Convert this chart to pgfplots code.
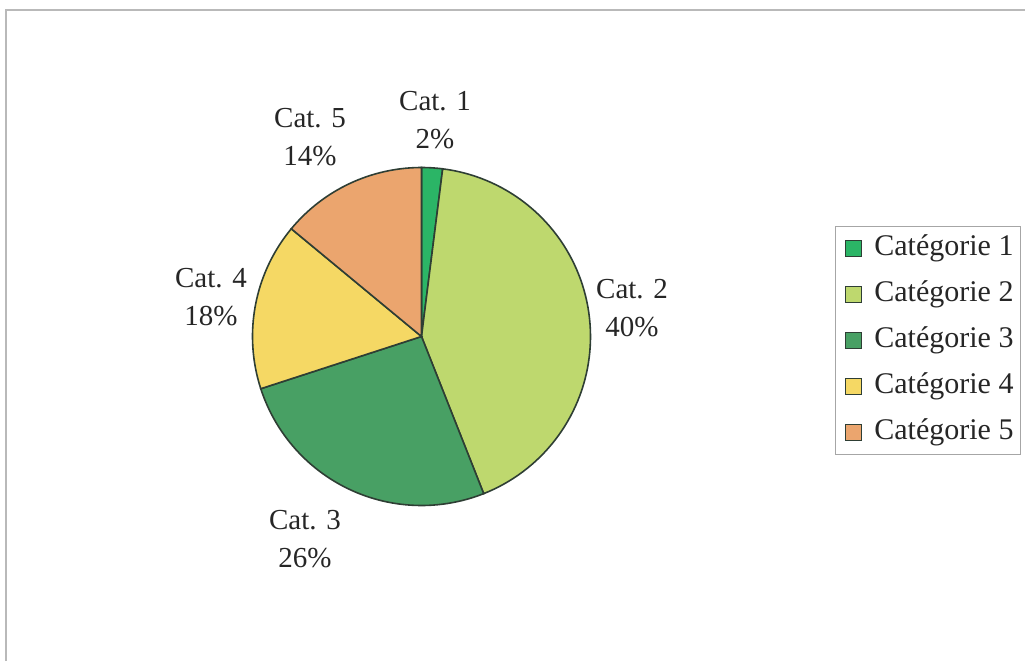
\documentclass[border=0pt]{standalone}
\usepackage{pgfplots}
\pgfplotsset{compat=1.18}
\usepackage{fontspec}
\setmainfont{Liberation Serif}
\definecolor{c1}{HTML}{2BB566}
\definecolor{c2}{HTML}{BED86E}
\definecolor{c3}{HTML}{48A064}
\definecolor{c4}{HTML}{F5D864}
\definecolor{c5}{HTML}{EBA56E}
\definecolor{edge}{HTML}{2E3E34}
\definecolor{txt}{HTML}{262626}
% slice values (percent), read from the drawn geometry
\def\vA{2}
\def\vB{42}
\def\vC{26}
\def\vD{16}
\def\vE{14}
\pgfmathsetmacro\aA{90}
\pgfmathsetmacro\aB{\aA-3.6*\vA}
\pgfmathsetmacro\aC{\aB-3.6*\vB}
\pgfmathsetmacro\aD{\aC-3.6*\vC}
\pgfmathsetmacro\aE{\aD-3.6*\vD}
\pgfmathsetmacro\aF{\aE-3.6*\vE}
\def\cx{421.5}
\def\cy{324.5}
\def\r{169}
\begin{document}
\begin{tikzpicture}
\begin{axis}[
  scale only axis, width=512.5pt, height=330.5pt,
  xmin=0, xmax=1025, ymin=0, ymax=661,
  hide axis, clip=false,
  legend style={at={(axis cs:835,435)}, anchor=north west, draw=gray!70, fill=white,
    font=\fontsize{15}{17}\selectfont\color{txt}, row sep=8.5pt,
    inner xsep=3.5pt, inner ysep=3.75pt,
    nodes={inner xsep=0pt, inner ysep=0pt, text height=11pt, text depth=3.5pt}},
  legend cell align=left,
  legend image code/.code={\path[draw=none,fill=none] (-1.5pt,0pt) -- (14.5pt,0pt);\draw[#1,draw=edge,line width=0.6pt] (0pt,-4pt) rectangle (8pt,4pt);},
]
\draw[gray!55, line width=0.8pt] (axis cs:6,0) -- (axis cs:6,651) -- (axis cs:1025,651);
\addplot[fill=c1, draw=edge, line width=0.8pt, domain=\aB:\aA, samples=20, variable=\t] ({\cx+\r*cos(\t)},{\cy+\r*sin(\t)}) -- (axis cs:\cx,\cy) -- cycle;
\addlegendentry{Catégorie 1}
\addplot[fill=c2, draw=edge, line width=0.8pt, domain=\aC:\aB, samples=80, variable=\t] ({\cx+\r*cos(\t)},{\cy+\r*sin(\t)}) -- (axis cs:\cx,\cy) -- cycle;
\addlegendentry{Catégorie 2}
\addplot[fill=c3, draw=edge, line width=0.8pt, domain=\aD:\aC, samples=60, variable=\t] ({\cx+\r*cos(\t)},{\cy+\r*sin(\t)}) -- (axis cs:\cx,\cy) -- cycle;
\addlegendentry{Catégorie 3}
\addplot[fill=c4, draw=edge, line width=0.8pt, domain=\aE:\aD, samples=40, variable=\t] ({\cx+\r*cos(\t)},{\cy+\r*sin(\t)}) -- (axis cs:\cx,\cy) -- cycle;
\addlegendentry{Catégorie 4}
\addplot[fill=c5, draw=edge, line width=0.8pt, domain=\aF:\aE, samples=40, variable=\t] ({\cx+\r*cos(\t)},{\cy+\r*sin(\t)}) -- (axis cs:\cx,\cy) -- cycle;
\addlegendentry{Catégorie 5}
\begin{scope}[every node/.style={align=center, text=txt, font=\fontsize{14.5}{19}\selectfont}]
\node at (axis cs:435,541) {Cat. 1\\2\%};
\node at (axis cs:632,353) {Cat. 2\\40\%};
\node at (axis cs:305,122) {Cat. 3\\26\%};
\node at (axis cs:211,364) {Cat. 4\\18\%};
\node at (axis cs:310,524) {Cat. 5\\14\%};
\end{scope}
\end{axis}
\pgfresetboundingbox
\path (current axis.south west) rectangle (current axis.north east);
\end{tikzpicture}
\end{document}
